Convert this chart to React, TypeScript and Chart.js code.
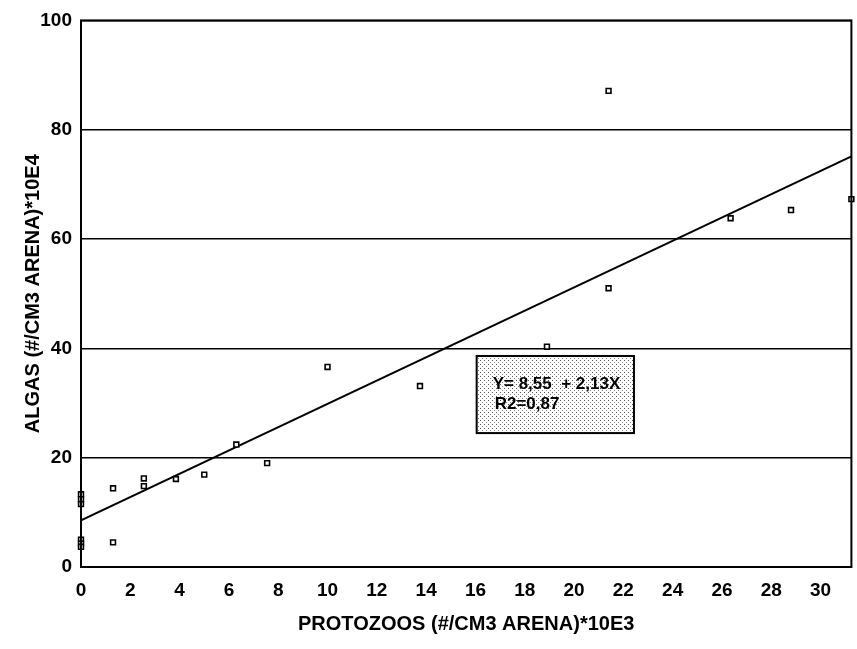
import React, { useEffect, useRef } from "react";
import { Chart, registerables } from "chart.js";
Chart.register(...registerables);

// Observed data: protozoos (x, *10E3) vs algas (y, *10E4)
const protozoos = [0, 0, 0, 0, 0, 0, 1.3, 1.3, 2.55, 2.55, 3.85, 5.0, 6.3, 7.55, 10.0, 13.75, 18.9, 21.4, 21.4, 26.35, 28.8, 31.25];
const algas = [13.3, 12.4, 11.5, 5.0, 4.3, 3.7, 14.4, 4.5, 16.2, 14.8, 16.1, 16.9, 22.4, 19.0, 36.6, 33.1, 40.3, 87.1, 51.0, 63.8, 65.3, 67.3];

// Regression line endpoints (Y = 8,55 + 2,13X)
const fitX = [0, 31.25];
const fitY = [8.55, 75.11];

// Axis ticks
const yTicks = [0, 20, 40, 60, 80, 100];
const xStep = 2;

// Annotation text
const noteLines = ["Y= 8,55  + 2,13X", "R2=0,87"];

const X_TITLE = "PROTOZOOS (#/CM3 ARENA)*10E3";
const Y_TITLE = "ALGAS (#/CM3 ARENA)*10E4";

const NOTE = { x0: 16.05, x1: 22.43, y0: 24.5, y1: 38.6 };

function makePattern(ctx: CanvasRenderingContext2D) {
  const c = document.createElement("canvas");
  c.width = 4;
  c.height = 4;
  const p = c.getContext("2d")!;
  p.fillStyle = "#ffffff";
  p.fillRect(0, 0, 4, 4);
  p.fillStyle = "#555555";
  p.fillRect(0, 0, 1, 1);
  p.fillStyle = "#888888";
  p.fillRect(2, 2, 1, 1);
  return ctx.createPattern(c, "repeat");
}

const framePlugin = {
  id: "frameAndNote",
  afterDatasetsDraw(chart: any) {
    const { ctx, chartArea: a, scales } = chart;
    const x = scales.x;
    const y = scales.y;
    ctx.save();
    // plot border
    ctx.strokeStyle = "#000";
    ctx.lineWidth = 2;
    ctx.strokeRect(a.left, a.top, a.right - a.left, a.bottom - a.top);
    // note box
    const l = x.getPixelForValue(NOTE.x0);
    const r = x.getPixelForValue(NOTE.x1);
    const t = y.getPixelForValue(NOTE.y1);
    const b = y.getPixelForValue(NOTE.y0);
    const pat = makePattern(ctx);
    ctx.fillStyle = pat || "#eee";
    ctx.fillRect(l, t, r - l, b - t);
    ctx.strokeStyle = "#000";
    ctx.lineWidth = 2;
    ctx.strokeRect(l, t, r - l, b - t);
    ctx.fillStyle = "#000";
    ctx.font = "bold 17px 'Liberation Sans', Arial, sans-serif";
    ctx.textBaseline = "middle";
    ctx.textAlign = "left";
    ctx.fillText(noteLines[0], l + 16, t + 28);
    ctx.fillText(noteLines[1], l + 18, t + 48);
    ctx.restore();
  },
};

export default function App() {
  const ref = useRef<HTMLCanvasElement | null>(null);
  useEffect(() => {
    if (!ref.current) return;
    Chart.defaults.font.family = "'Liberation Sans', Arial, sans-serif";
    Chart.defaults.color = "#000";
    const pts = protozoos.map((v, i) => ({ x: v, y: algas[i] }));
    const line = fitX.map((v, i) => ({ x: v, y: fitY[i] }));
    const chart = new Chart(ref.current, {
      type: "scatter",
      data: {
        datasets: [
          {
            type: "line",
            data: line,
            borderColor: "#000",
            borderWidth: 2,
            pointRadius: 0,
            fill: false,
            order: 2,
          } as any,
          {
            data: pts,
            pointStyle: "rect",
            pointRadius: 3.4,
            pointBorderWidth: 1.6,
            borderColor: "#000",
            backgroundColor: "#fff",
            pointBackgroundColor: "#fff",
            pointBorderColor: "#000",
            clip: false,
            order: 1,
          } as any,
        ],
      },
      plugins: [framePlugin],
      options: {
        responsive: false,
        animation: false,
        layout: { padding: { top: 19.5, right: 4, left: 0, bottom: 0 } },
        plugins: { legend: { display: false }, tooltip: { enabled: false } },
        scales: {
          x: {
            type: "linear",
            min: 0,
            max: 31.25,
            grid: { display: false, drawTicks: false },
            border: { display: false },
            ticks: {
              stepSize: xStep,
              includeBounds: false,
              padding: 12,
              font: { size: 19, weight: "bold" },
              maxRotation: 0,
              autoSkip: false,
            },
            title: {
              display: true,
              text: X_TITLE,
              font: { size: 20, weight: "bold" },
              padding: { top: 0, bottom: 13 },
            },
            afterFit: (s: any) => {
              s.height = 82;
            },
          },
          y: {
            type: "linear",
            min: 0,
            max: 100,
            afterBuildTicks: (s: any) => {
              s.ticks = yTicks.map((v) => ({ value: v }));
            },
            grid: { color: "#000", lineWidth: 1.5, drawTicks: false },
            border: { display: false },
            ticks: {
              padding: 9,
              font: { size: 19, weight: "bold" },
            },
            title: {
              display: true,
              text: Y_TITLE,
              font: { size: 20, weight: "bold" },
              padding: { top: 21, bottom: 0 },
            },
            afterFit: (s: any) => {
              s.width = 81;
            },
          },
        },
      },
    } as any);
    return () => chart.destroy();
  }, []);
  return (
    <div style={{ position: "absolute", left: 0, top: 0, width: 857, height: 649, background: "#fff" }}>
      <canvas ref={ref} width={857} height={649} style={{ display: "block" }} />
    </div>
  );
}
